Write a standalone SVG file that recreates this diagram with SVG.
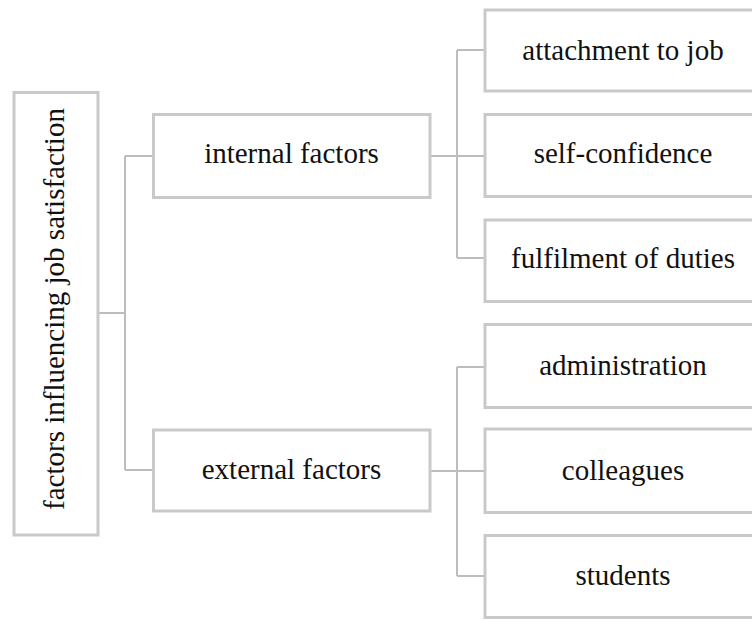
<svg xmlns="http://www.w3.org/2000/svg" width="752" height="621" viewBox="0 0 752 621">
<style>
.box{fill:#ffffff;stroke:#c9c9c9;stroke-width:3}
.lbl{font-family:"Liberation Serif","Times New Roman",serif;font-size:29px;fill:#111111;text-anchor:middle}
.conn{fill:none;stroke:#bdbdbd;stroke-width:2}
</style>
<rect x="0" y="0" width="752" height="621" fill="#ffffff"/>
<g id="connectors">
<path class="conn" d="M99 313 H125 M125 156 V470 M125 156 H153 M125 470 H153"/>
<path class="conn" d="M430 156 H485 M457 50 V258 M457 50 H485 M457 258 H485"/>
<path class="conn" d="M430 471 H485 M457 367 V576 M457 367 H485 M457 576 H485"/>
</g>
<g id="root">
<rect class="box" x="14" y="92.5" width="84" height="442.5"/>
<text class="lbl" transform="translate(64 309) rotate(-90)" x="0" y="0">factors influencing job satisfaction</text>
</g>
<g id="internal">
<rect class="box" x="153.5" y="114.5" width="276.5" height="83"/>
<text class="lbl" x="291.5" y="163">internal factors</text>
</g>
<g id="external">
<rect class="box" x="153.5" y="430" width="276.5" height="81"/>
<text class="lbl" x="291.5" y="479">external factors</text>
</g>
<g id="attachment">
<rect class="box" x="485" y="10" width="276" height="81"/>
<text class="lbl" x="623" y="60">attachment to job</text>
</g>
<g id="selfconfidence">
<rect class="box" x="485" y="114.5" width="276" height="82"/>
<text class="lbl" x="623" y="163">self-confidence</text>
</g>
<g id="fulfilment">
<rect class="box" x="485" y="220" width="276" height="81.5"/>
<text class="lbl" x="623" y="268">fulfilment of duties</text>
</g>
<g id="administration">
<rect class="box" x="485" y="324.5" width="276" height="83"/>
<text class="lbl" x="623" y="375">administration</text>
</g>
<g id="colleagues">
<rect class="box" x="485" y="429" width="276" height="83.5"/>
<text class="lbl" x="623" y="480">colleagues</text>
</g>
<g id="students">
<rect class="box" x="485" y="535.5" width="276" height="82"/>
<text class="lbl" x="623" y="585">students</text>
</g>
</svg>
